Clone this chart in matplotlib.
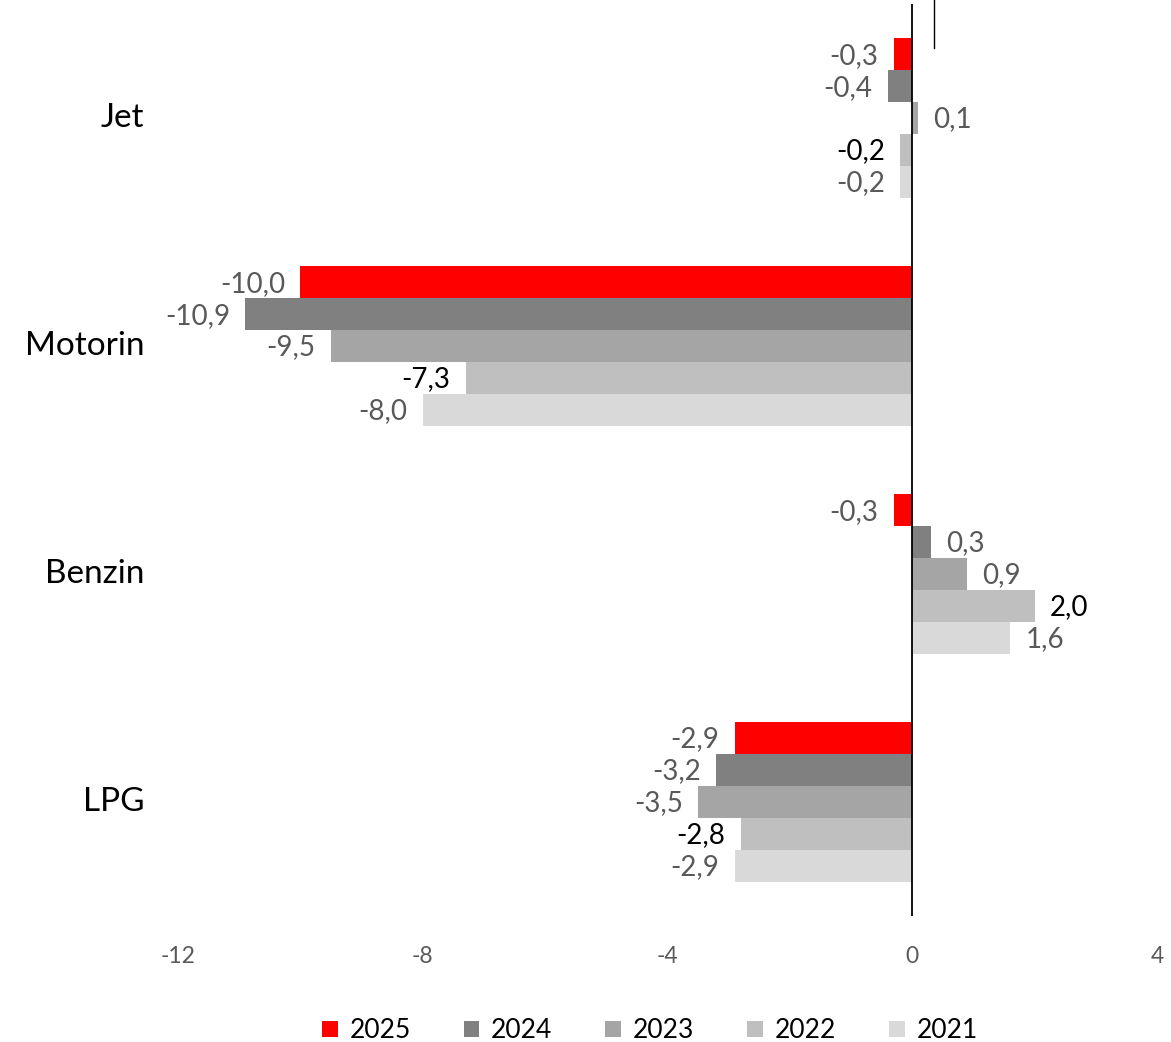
import numpy as np
import matplotlib.pyplot as plt
from matplotlib.lines import Line2D

categories = ["Jet", "Motorin", "Benzin", "LPG"]
years = ["2025", "2024", "2023", "2022", "2021"]
values = {
    "2025": [-0.3, -10.0, -0.3, -2.9],
    "2024": [-0.4, -10.9, 0.3, -3.2],
    "2023": [0.1, -9.5, 0.9, -3.5],
    "2022": [-0.2, -7.3, 2.0, -2.8],
    "2021": [-0.2, -8.0, 1.6, -2.9],
}
colors = ["#FF0000", "#808080", "#A5A5A5", "#BFBFBF", "#D9D9D9"]
label_colors = ["#595959", "#595959", "#595959", "#000000", "#595959"]
xticks = [-12, -8, -4, 0, 4]

if __name__ == "__main__":
    fig = plt.figure(figsize=(11.71, 10.42), dpi=100)
    ax = fig.add_axes([0.152, 0.121, 0.836, 0.875])

    bar_h = 0.14
    ys = np.arange(len(categories))
    for i, yr in enumerate(years):
        pos = ys + (i - 2) * bar_h
        vals = values[yr]
        ax.barh(pos, vals, height=bar_h, color=colors[i], label=yr, zorder=2)
        for p, v in zip(pos, vals):
            txt = f"{v:.1f}".replace(".", ",")
            off = 11 if v >= 0 else -11
            ha = "left" if v >= 0 else "right"
            ax.annotate(txt, (v, p), xytext=(off, -1), textcoords="offset points",
                        ha=ha, va="center", fontsize=20, color=label_colors[i],
                        family=["Lato", "DejaVu Sans"])

    ax.axvline(0, color="black", linewidth=1.3, zorder=3)
    ax.set_xlim(-12, 4)
    ax.set_ylim(3.5, -0.5)
    ax.set_xticks(xticks)
    ax.set_xticklabels([str(t) for t in xticks], fontsize=16.5, color="#595959",
                       family=["Lato", "DejaVu Sans"])
    ax.tick_params(axis="x", length=0, pad=22)
    ax.set_yticks([])
    for s in ax.spines.values():
        s.set_visible(False)

    for y, c in zip(ys, categories):
        ax.text(-12.55, y, c, ha="right", va="center", fontsize=24,
                family=["Lato", "DejaVu Sans"], color="black")

    # stray short line at the top
    fig.add_artist(Line2D([934 / 1171, 934 / 1171], [1.0, 1 - 48 / 1042],
                          color="black", linewidth=1.0))

    fig.legend(loc="lower center", bbox_to_anchor=(0.555, -0.024), ncol=5,
               frameon=False, handlelength=0.6, handleheight=0.6,
               columnspacing=2.0, handletextpad=0.45,
               prop={"family": ["Lato", "DejaVu Sans"], "size": 19})

    plt.savefig("out.png", dpi=100)
